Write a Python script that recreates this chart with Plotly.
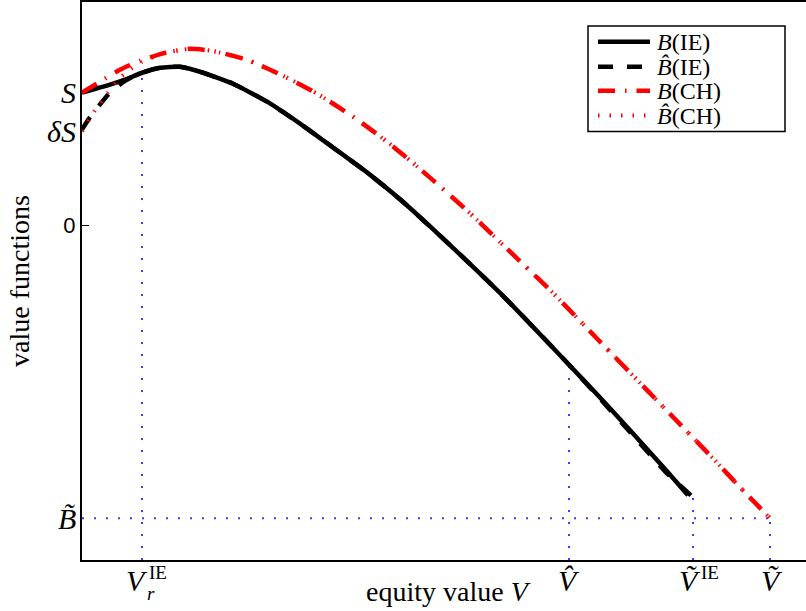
import numpy as np
import plotly.graph_objects as go

# ---------------- data ----------------
V_IE = [0.00, 0.28, 0.43, 0.60, 0.78, 0.98, 1.18, 1.51, 1.85, 2.18, 2.51, 2.85, 3.18,
        3.51, 3.85, 4.18, 4.51, 4.87, 5.18, 5.51, 5.85, 6.06]
B_IE = [1.33, 1.41, 1.46, 1.53, 1.58, 1.59, 1.54, 1.42, 1.24, 1.02, 0.78, 0.53, 0.26,
        -0.04, -0.36, -0.68, -1.02, -1.40, -1.73, -2.09, -2.47, -2.71]

V_IE_hat = [0.00, 0.07, 0.27, 0.43, 0.60, 0.78, 0.98, 1.18, 1.51, 1.85, 2.18, 2.51, 2.85,
            3.18, 3.51, 3.85, 4.18, 4.51, 4.87, 5.18, 5.51, 5.85, 6.11]
B_IE_hat = [0.96, 1.07, 1.32, 1.45, 1.53, 1.58, 1.59, 1.54, 1.42, 1.24, 1.02, 0.78, 0.53,
            0.26, -0.04, -0.36, -0.68, -1.02, -1.40, -1.74, -2.11, -2.49, -2.73]

V_CH = [0.00, 0.18, 0.38, 0.58, 0.83, 1.08, 1.30, 1.65, 2.01, 2.35, 2.68, 3.01, 3.28,
        3.58, 3.88, 4.15, 4.41, 4.71, 4.95, 5.21, 5.51, 5.78, 6.05, 6.31, 6.58, 6.88]
B_CH = [1.33, 1.44, 1.56, 1.65, 1.73, 1.77, 1.75, 1.66, 1.50, 1.32, 1.11, 0.87, 0.65,
        0.39, 0.12, -0.14, -0.39, -0.68, -0.93, -1.20, -1.51, -1.79, -2.07, -2.34, -2.63,
        -2.94]

V_CH_hat = [0.00, 0.13, 0.26, 0.36, 0.46, 0.60, 0.83, 1.08, 1.30, 1.65, 2.01, 2.35, 2.68,
            3.01, 3.28, 3.58, 3.88, 4.15, 4.41, 4.71, 4.95, 5.21, 5.51, 5.78, 6.05, 6.31,
            6.58, 6.88]
B_CH_hat = [0.94, 1.15, 1.33, 1.46, 1.55, 1.64, 1.73, 1.77, 1.75, 1.66, 1.50, 1.32, 1.11,
            0.87, 0.65, 0.39, 0.12, -0.14, -0.39, -0.68, -0.93, -1.20, -1.51, -1.79, -2.07,
            -2.34, -2.63, -2.94]

series_names = ["<i>B</i>(IE)", "<i>B\u0302</i>(IE)", "<i>B</i>(CH)", "<i>B\u0302</i>(CH)"]

# special values on the axes
S_val, dS_val, B_tilde = 1.33, 0.94, -2.94
V_r, V_hat, V_tilde_IE, V_tilde = 0.60, 4.87, 6.11, 6.88

y_tick_vals = [S_val, dS_val, B_tilde]
y_tick_text = ["<i>S</i>", "<i>\u03b4S</i>", "<i>B\u0303</i>"]

X_RANGE = [0, 7.24]
Y_RANGE = [-3.36, 2.24]

SERIF = "Liberation Serif, Times New Roman, serif"
BLUE = "rgb(60,60,255)"

# plot-area geometry in pixels (for paper-coordinate helpers)
L, R, T, B = 82, 806, 0, 560


def px(xp):
    return (xp - L) / (R - L)


def py(yp):
    return (B - yp) / (B - T)


styles = [
    dict(color="black", width=4.5),
    dict(color="black", width=4.5, dash="15px,14px"),
    dict(color="red", width=4.5, dash="17px,10px,1.5px,10px"),
    dict(color="red", width=4, dash="1.5px,10px"),
]

fig = go.Figure()

# ---------- blue dotted reference lines ----------
ref_x = [V_r, V_hat, V_tilde_IE, V_tilde]
ref_top = [float(np.interp(V_r, V_IE, B_IE)),
           float(np.interp(V_hat, V_IE, B_IE)),
           float(np.interp(V_tilde_IE, V_IE_hat, B_IE_hat)),
           float(np.interp(V_tilde, V_CH, B_CH))]
for xv, yt in zip(ref_x, ref_top):
    fig.add_trace(go.Scatter(x=[xv, xv], y=[Y_RANGE[0], yt], mode="lines",
                             line=dict(color=BLUE, width=2, dash="2px,10px"),
                             showlegend=False, hoverinfo="skip"))
fig.add_trace(go.Scatter(x=[X_RANGE[0], V_tilde], y=[B_tilde, B_tilde], mode="lines",
                         line=dict(color=BLUE, width=2, dash="2px,10px"),
                         showlegend=False, hoverinfo="skip"))

# ---------- curves ----------
for (xs, ys), nm, st in zip([(V_IE, B_IE), (V_IE_hat, B_IE_hat), (V_CH, B_CH),
                             (V_CH_hat, B_CH_hat)], series_names, styles):
    fig.add_trace(go.Scatter(x=xs, y=ys, mode="lines", name=nm, showlegend=False,
                             line=dict(shape="spline", smoothing=0.5, **st)))

# ---------- legend (box, samples, labels) ----------
shapes = [dict(type="rect", xref="paper", yref="paper", x0=px(588), x1=px(785),
               y0=py(24), y1=py(130), line=dict(color="black", width=1.5),
               fillcolor="white", layer="above")]
ann = []
row_y = [40, 65, 89, 114]
for nm, st, ry in zip(series_names, styles, row_y):
    shapes.append(dict(type="line", xref="paper", yref="paper", x0=px(598), x1=px(650),
                       y0=py(ry), y1=py(ry), layer="above",
                       line=dict(color=st["color"], width=st["width"],
                                 dash=st.get("dash", "solid"))))
    ann.append(dict(x=px(655), xref="paper", y=py(ry), yref="paper", text=nm,
                    showarrow=False, xanchor="left", yanchor="middle",
                    font=dict(family=SERIF, size=24, color="black")))

# ---------- tick labels ----------
for v, t in zip(y_tick_vals, y_tick_text):
    ann.append(dict(x=0, xref="paper", y=v, yref="y", text=t, showarrow=False,
                    xanchor="right", yanchor="middle", xshift=-4,
                    font=dict(family=SERIF, size=30, color="black")))

LBL_Y = -0.004
ann.append(dict(x=V_r, xref="x", y=LBL_Y, yref="paper", text="<i>V</i>", showarrow=False,
                xanchor="center", yanchor="top", xshift=-5,
                font=dict(family=SERIF, size=30, color="black")))
ann.append(dict(x=V_r, xref="x", y=LBL_Y - 0.033, yref="paper", text="<i>r</i>",
                showarrow=False, xanchor="left", yanchor="top", xshift=3,
                font=dict(family=SERIF, size=19, color="black")))
ann.append(dict(x=V_r, xref="x", y=LBL_Y + 0.004, yref="paper", text="IE", showarrow=False,
                xanchor="left", yanchor="top", xshift=5,
                font=dict(family=SERIF, size=19, color="black")))
ann.append(dict(x=V_hat, xref="x", y=LBL_Y, yref="paper", text="<i>V\u0302</i>",
                showarrow=False, xanchor="center", yanchor="top",
                font=dict(family=SERIF, size=30, color="black")))
ann.append(dict(x=V_tilde_IE, xref="x", y=LBL_Y, yref="paper", text="<i>V\u0303</i>",
                showarrow=False, xanchor="center", yanchor="top", xshift=-3,
                font=dict(family=SERIF, size=30, color="black")))
ann.append(dict(x=V_tilde_IE, xref="x", y=LBL_Y + 0.004, yref="paper", text="IE",
                showarrow=False, xanchor="left", yanchor="top", xshift=6,
                font=dict(family=SERIF, size=19, color="black")))
ann.append(dict(x=V_tilde, xref="x", y=LBL_Y, yref="paper", text="<i>V\u0303</i>",
                showarrow=False, xanchor="center", yanchor="top", xshift=2,
                font=dict(family=SERIF, size=30, color="black")))

# ---------- axis titles ----------
ann.append(dict(x=px(448), xref="paper", y=py(592), yref="paper",
                text="equity value <i>V</i>", showarrow=False, xanchor="center",
                yanchor="middle", font=dict(family=SERIF, size=28, color="black")))
ann.append(dict(x=px(19), xref="paper", y=py(280), yref="paper",
                text="value functions", showarrow=False, textangle=-90,
                xanchor="center", yanchor="middle",
                font=dict(family=SERIF, size=28, color="black")))

fig.update_layout(
    width=806, height=611,
    margin=dict(l=L, r=0, t=T, b=611 - B),
    plot_bgcolor="white", paper_bgcolor="white",
    showlegend=False,
    annotations=ann,
    shapes=shapes,
    xaxis=dict(range=X_RANGE, showgrid=False, zeroline=False, showline=True,
               linecolor="black", linewidth=2, mirror=True, showticklabels=False,
               ticks=""),
    yaxis=dict(range=Y_RANGE, showgrid=False, zeroline=False, showline=True,
               linecolor="black", linewidth=2, mirror=False,
               tickvals=[0], ticktext=["0"], ticks="inside", ticklen=7,
               tickcolor="black", tickwidth=1,
               tickfont=dict(family="Liberation Sans, Arial, sans-serif", size=22,
                             color="black")),
)

fig.write_html("out.html", config={"displayModeBar": False},
               post_script="document.body.style.margin='0px';")
